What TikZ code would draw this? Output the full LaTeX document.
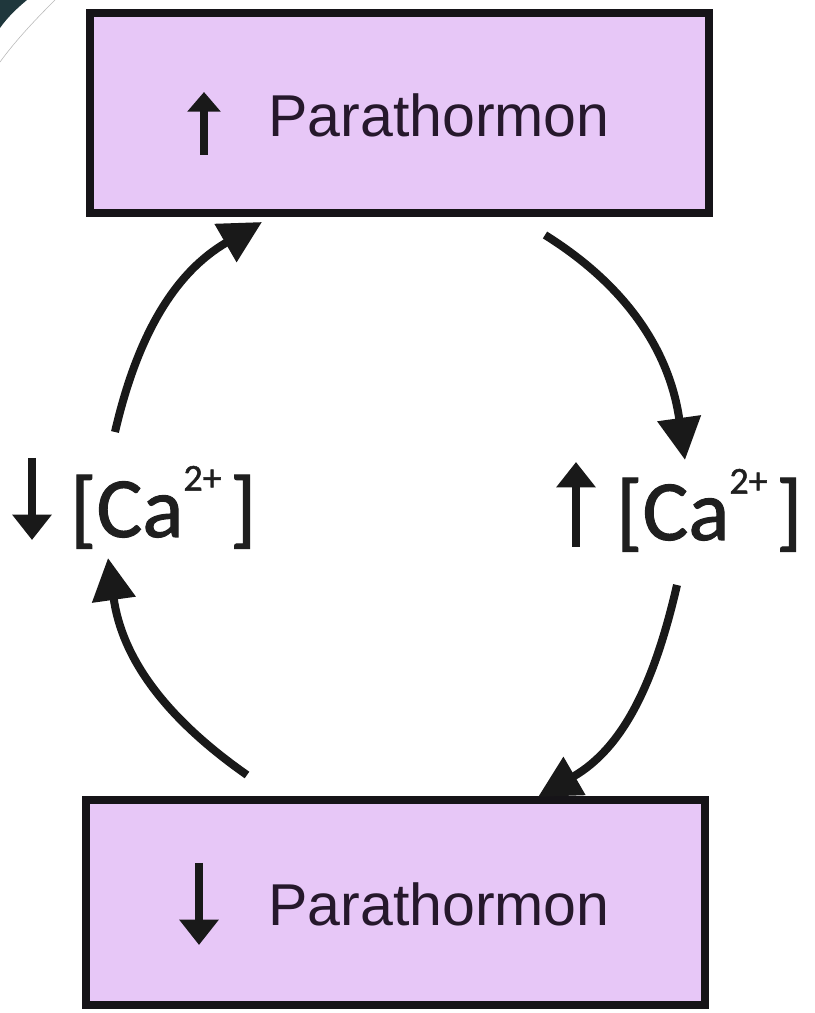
\documentclass[tikz,border=0pt]{standalone}
\usepackage{fontspec}
\setmainfont{Liberation Sans}
\newfontfamily\calf[FakeBold=1.2]{Carlito}
\usetikzlibrary{arrows.meta}
\definecolor{boxfill}{RGB}{231,199,247}
\definecolor{boxline}{RGB}{22,20,24}
\definecolor{txt}{RGB}{38,24,44}
\definecolor{cornerc}{RGB}{31,55,60}
\newcommand{\casup}{\raisebox{33pt}{\fontsize{27}{27}\selectfont 2+}\hspace{6pt}}
\begin{document}
\begin{tikzpicture}[x=0.025cm,y=0.025cm,
  pbox/.style={draw=boxline, fill=boxfill, line width=5.7pt, minimum width=15.475cm, inner sep=0pt, outer sep=0pt},
  ptext/.style={anchor=base west, inner sep=0pt, text=txt, font=\fontsize{42}{42}\selectfont},
  catext/.style={anchor=base west, inner sep=0pt, text=black!88, font=\calf\fontsize{61}{61}\selectfont},
  cycarrow/.style={line width=5.7pt, draw=black!90, -{Triangle[length=30pt,width=30pt]}},
  symarrow/.style={line width=5pt, draw=black!90, -{Triangle[length=18pt,width=27pt]}},
  smallsym/.style={line width=5pt, draw=black!90, -{Triangle[length=14pt,width=23pt]}}
]
\useasboundingbox (0,0) rectangle (815,1013);
\fill[white] (0,0) rectangle (815,1013);
% corner decoration
\fill[cornerc] (0,1013) -- (27,1013) .. controls (16,1004) and (7,995) .. (0,985) -- cycle;
\draw[gray!55, line width=0.4pt] (55,1013) .. controls (36,994) and (16,973) .. (0,951);

% boxes
\node[pbox, minimum height=5cm] (ptop) at (399.5,900) {};
\node[pbox, minimum height=5.125cm] (pbot) at (395.5,110.5) {};
\node[ptext] (ptopt) at (268,876) {Parathormon};
\node[ptext] (pbott) at (268,87) {Parathormon};

% symbol arrows in boxes
\coordinate (upA) at (204,858); \coordinate (upB) at (204,921);
\draw[smallsym] (upA) -- (upB);
\coordinate (dnA) at (199,150); \coordinate (dnB) at (199,68);
\draw[symarrow] (dnA) -- (dnB);

% calcium labels
\node[catext] (caL) at (70,476) {[Ca\casup]};
\node[catext] (caR) at (616,473) {[Ca\casup]};
\coordinate (lA) at (32,555); \coordinate (lB) at (32,473);
\draw[symarrow] (lA) -- (lB);
\coordinate (rA) at (576,466); \coordinate (rB) at (576,551);
\draw[symarrow] (rA) -- (rB);

% cycle arrows
\coordinate (c1s) at (115,581); \coordinate (c1e) at (262,791);
\coordinate (c2s) at (545,778); \coordinate (c2e) at (685,553);
\coordinate (c3s) at (677,428); \coordinate (c3e) at (538,216);
\coordinate (c4s) at (247,238); \coordinate (c4e) at (108,455);
\draw[cycarrow] (c1s) to[out=77,in=210] (c1e);
\draw[cycarrow] (c2s) to[out=-32,in=98] (c2e);
\draw[cycarrow] (c3s) to[out=257,in=30] (c3e);
\draw[cycarrow] (c4s) to[out=145,in=278] (c4e);
\end{tikzpicture}
\end{document}
